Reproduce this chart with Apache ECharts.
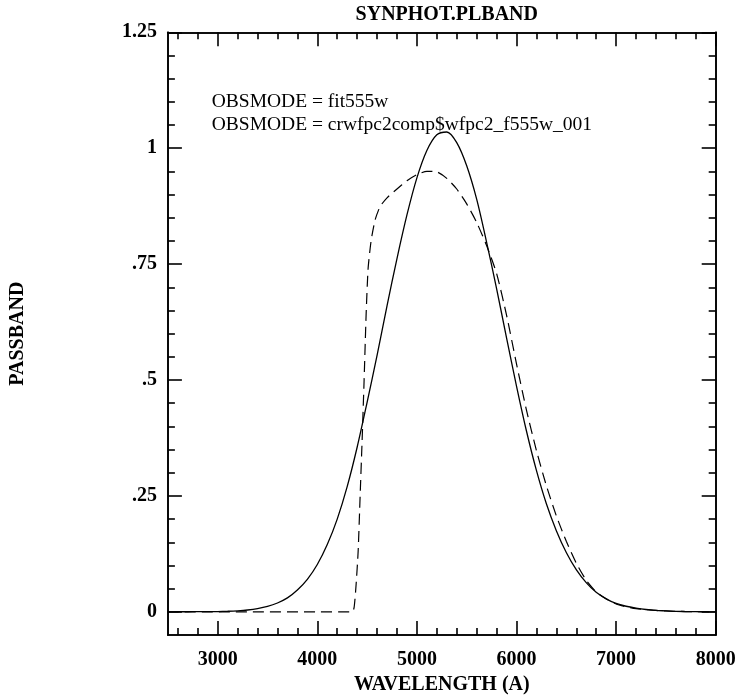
<!DOCTYPE html>
<html>
<head>
<meta charset="utf-8">
<script src="https://cdn.jsdelivr.net/npm/echarts@6/dist/echarts.min.js"></script>
<style>
html,body{margin:0;padding:0;background:#fff;}
#chart{width:737px;height:695px;}
</style>
</head>
<body>
<div id="chart"></div>
<script>
// ---- data ----
const solidWavelength = [2500, 2600, 2700, 2800, 2900, 3000, 3100, 3200, 3300, 3400, 3500, 3600, 3700, 3800, 3900, 4000, 4100, 4200, 4300, 4400, 4500, 4600, 4700, 4800, 4900, 5000, 5100, 5200, 5300, 5400, 5500, 5600, 5700, 5800, 5900, 6000, 6100, 6200, 6300, 6400, 6500, 6600, 6700, 6800, 6900, 7000, 7100, 7200, 7300, 7400, 7500, 7600, 7700, 7800, 7900, 8000];
const solidPassband = [0, 0.0001, 0.0002, 0.0003, 0.0004, 0.0006, 0.0012, 0.0022, 0.0039, 0.0068, 0.0115, 0.019, 0.030, 0.047, 0.070, 0.102, 0.145, 0.200, 0.270, 0.355, 0.452, 0.553, 0.660, 0.762, 0.856, 0.936, 0.995, 1.029, 1.035, 1.012, 0.962, 0.890, 0.797, 0.697, 0.591, 0.487, 0.390, 0.305, 0.233, 0.175, 0.128, 0.091, 0.063, 0.042, 0.028, 0.018, 0.012, 0.008, 0.005, 0.003, 0.002, 0.001, 0.0006, 0.0003, 0.0001, 0];
const dashedWavelength = [2500, 4350, 4370, 4390, 4410, 4430, 4450, 4470, 4490, 4510, 4540, 4580, 4630, 4700, 4800, 4900, 5000, 5100, 5200, 5300, 5400, 5500, 5600, 5700, 5800, 5900, 6000, 6100, 6200, 6300, 6400, 6500, 6600, 6700, 6800, 6900, 7000, 7100, 7200, 7300, 7400, 7500, 7600, 7800, 8000];
const dashedPassband = [0, 0, 0.01, 0.06, 0.13, 0.25, 0.37, 0.50, 0.64, 0.74, 0.80, 0.845, 0.874, 0.893, 0.912, 0.930, 0.943, 0.950, 0.949, 0.935, 0.912, 0.880, 0.840, 0.790, 0.730, 0.640, 0.535, 0.435, 0.348, 0.272, 0.207, 0.152, 0.105, 0.068, 0.043, 0.028, 0.017, 0.011, 0.007, 0.005, 0.003, 0.002, 0.001, 0.0003, 0];
const seriesNames = ['OBSMODE = fit555w', 'OBSMODE = crwfpc2comp$wfpc2_f555w_001'];
const xMajorTicks = [3000, 4000, 5000, 6000, 7000, 8000];
const xMinorTicks = [2600, 2800, 3200, 3400, 3600, 3800, 4200, 4400, 4600, 4800, 5200, 5400, 5600, 5800, 6200, 6400, 6600, 6800, 7200, 7400, 7600, 7800];
const yMajorTicks = [0, 0.25, 0.5, 0.75, 1, 1.25];
const yMinorTicks = [0.05, 0.1, 0.15, 0.2, 0.3, 0.35, 0.4, 0.45, 0.55, 0.6, 0.65, 0.7, 0.8, 0.85, 0.9, 0.95, 1.05, 1.1, 1.15, 1.2];
const titleText = 'SYNPHOT.PLBAND';
const xName = 'WAVELENGTH (A)';
const yName = 'PASSBAND';

const pair = (xs, ys) => xs.map((x, i) => [x, ys[i]]);
const FONT = 'Liberation Serif';
const FS = 20;
const lineW = 1.6;

function xAx(pos, ticks, len, withLabels, extra) {
  return Object.assign({
    type: 'value', position: pos, min: 2500, max: 8000,
    axisLine: { show: true, onZero: false, lineStyle: { color: '#000', width: lineW } },
    splitLine: { show: false },
    axisTick: { show: true, inside: true, length: len, customValues: ticks, lineStyle: { color: '#000', width: lineW } },
    axisLabel: withLabels ? {
      show: true, customValues: ticks, margin: 15, color: '#000', fontFamily: FONT, fontWeight: 'bold', fontSize: FS,
      formatter: v => String(v)
    } : { show: false }
  }, extra || {});
}
function yAx(pos, ticks, len, withLabels, extra) {
  return Object.assign({
    type: 'value', position: pos, min: -0.05, max: 1.25,
    axisLine: { show: true, onZero: false, lineStyle: { color: '#000', width: lineW } },
    splitLine: { show: false },
    axisTick: { show: true, inside: true, length: len, customValues: ticks, lineStyle: { color: '#000', width: lineW } },
    axisLabel: withLabels ? {
      show: true, customValues: ticks, margin: 11, color: '#000', fontFamily: FONT, fontWeight: 'bold', fontSize: FS,
      formatter: v => (v === 0 ? '0' : String(+v.toFixed(2)).replace(/^0\./, '.'))
    } : { show: false }
  }, extra || {});
}

const chart = echarts.init(document.getElementById('chart'), null, { renderer: 'canvas' });
chart.setOption({
  animation: false,
  backgroundColor: '#fff',
  title: {
    text: titleText, left: 441.8, top: 0, textAlign: 'center',
    textStyle: { fontFamily: FONT, fontWeight: 'bold', fontSize: FS, color: '#000' }
  },
  grid: { left: 167.9, right: 21.3, top: 32.3, bottom: 60, containLabel: false, outerBoundsMode: 'none' },
  xAxis: [
    xAx('bottom', xMajorTicks, 14, true, {
      name: xName, nameLocation: 'middle', nameGap: 35,
      nameTextStyle: { fontFamily: FONT, fontWeight: 'bold', fontSize: FS, color: '#000' }
    }),
    xAx('bottom', xMinorTicks, 7, false),
    xAx('top', xMajorTicks, 14, false),
    xAx('top', xMinorTicks, 7, false)
  ],
  yAxis: [
    yAx('left', yMajorTicks, 14, true, {
      name: yName, nameLocation: 'middle', nameGap: 140, nameRotate: 90,
      nameTextStyle: { fontFamily: FONT, fontWeight: 'bold', fontSize: FS, color: '#000' }
    }),
    yAx('left', yMinorTicks, 7, false),
    yAx('right', yMajorTicks, 14, false),
    yAx('right', yMinorTicks, 7, false)
  ],
  graphic: [
    { type: 'text', left: 211.7, top: 92, style: { text: seriesNames[0], fill: '#000', font: '19.5px "Liberation Serif"' } },
    { type: 'text', left: 211.7, top: 115, style: { text: seriesNames[1], fill: '#000', font: '19.5px "Liberation Serif"' } }
  ],
  series: [
    {
      name: seriesNames[0], type: 'line', xAxisIndex: 0, yAxisIndex: 0,
      data: pair(solidWavelength, solidPassband), showSymbol: false, smooth: 0.3,
      lineStyle: { color: '#000', width: 1.3, type: 'solid' }
    },
    {
      name: seriesNames[1], type: 'line', xAxisIndex: 0, yAxisIndex: 0,
      data: pair(dashedWavelength, dashedPassband), showSymbol: false, smooth: 0.2,
      lineStyle: { color: '#000', width: 1.2, type: [11, 6] }
    }
  ]
});
</script>
</body>
</html>
